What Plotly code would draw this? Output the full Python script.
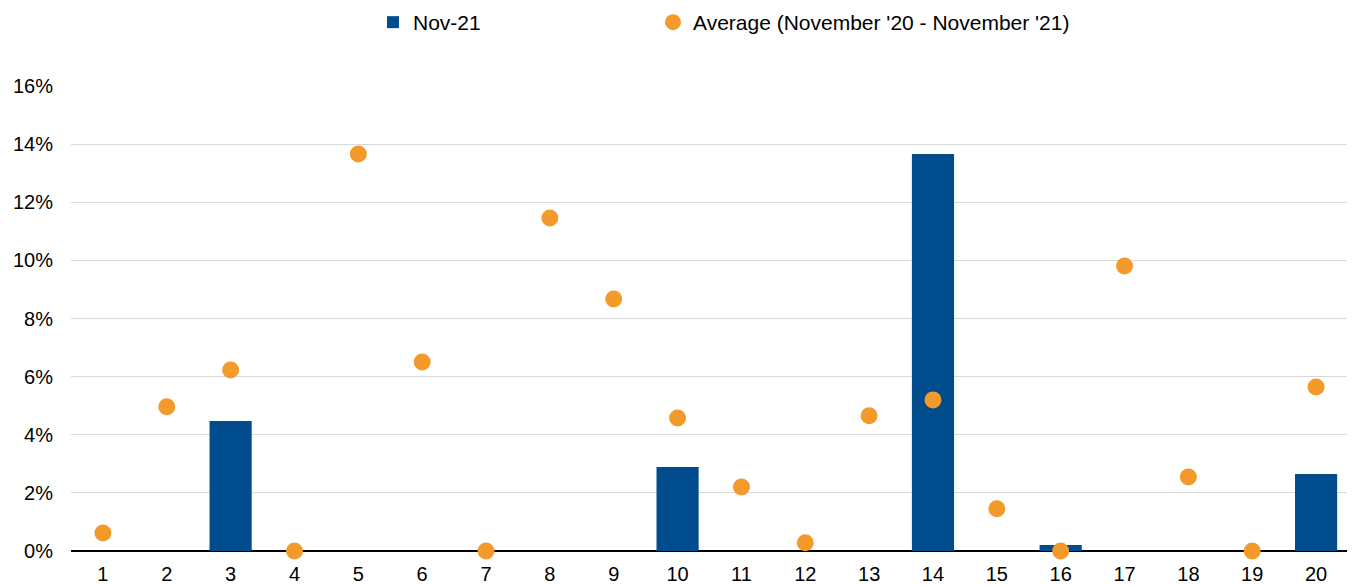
import plotly.graph_objects as go

categories = [str(i) for i in range(1, 21)]
nov21 = [0, 0, 4.47, 0, 0, 0, 0, 0, 0, 2.89, 0, 0, 0, 13.66, 0, 0.21, 0, 0, 0, 2.65]
average = [0.62, 4.96, 6.23, 0.0, 13.66, 6.5, 0.0, 11.46, 8.67, 4.58, 2.2, 0.28, 4.65, 5.2, 1.45, 0.0, 9.81, 2.55, 0.0, 5.64]
y_ticks = [0, 2, 4, 6, 8, 10, 12, 14, 16]

nov21_frac = [v / 100 for v in nov21]
avg_frac = [v / 100 for v in average]

PW, PH = 1277, 465  # plot area size in px

fig = go.Figure()
fig.add_trace(go.Bar(x=categories, y=nov21_frac, name="Nov-21", legend="legend",
                     marker=dict(color="#004C8C", line=dict(width=0))))
fig.add_trace(go.Scatter(x=categories, y=avg_frac, name="Average (November '20 - November '21)",
                         legend="legend2", mode="markers",
                         marker=dict(color="#F39A2B", size=17, line=dict(width=0)),
                         cliponaxis=False))

leg_common = dict(orientation="h", xanchor="left", yanchor="top", font=dict(size=21),
                  itemclick=False, bgcolor="rgba(0,0,0,0)")

fig.update_layout(
    width=1355, height=585,
    margin=dict(l=63, r=15, t=78, b=42, autoexpand=False),
    paper_bgcolor="white", plot_bgcolor="white",
    font=dict(family="Liberation Sans, Arial, sans-serif", size=20, color="#000000"),
    bargap=0.34,
    showlegend=True,
    legend=dict(x=(393 - 20 - 71) / PW, y=1 + (86 - 2) / PH, **leg_common),
    legend2=dict(x=(673 - 20 - 71) / PW, y=1 + (86 - 2) / PH, **leg_common),
    xaxis=dict(showgrid=False, ticks="", showline=False, zeroline=False,
               range=[-0.5, 19.5], tickfont=dict(size=20), ticklabelstandoff=9),
    yaxis=dict(range=[0, 0.16], tickvals=[t / 100 for t in y_ticks],
               ticktext=[f"{t}%" for t in y_ticks], showgrid=True, gridcolor="#D9D9D9",
               gridwidth=1, zeroline=True, zerolinecolor="#000000", zerolinewidth=1.5,
               ticks="", ticklabelstandoff=17, tickfont=dict(size=20)),
)

fig.write_html("out.html")
